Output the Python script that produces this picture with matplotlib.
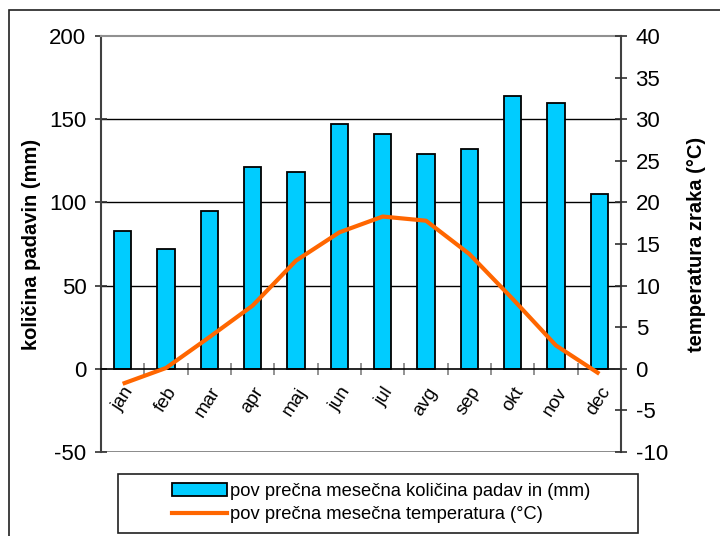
import matplotlib
matplotlib.use("Agg")
import matplotlib.pyplot as plt
from matplotlib.patches import Rectangle
from matplotlib.lines import Line2D

plt.rcParams['font.family'] = ['Liberation Sans', 'DejaVu Sans']
plt.rcParams['axes.unicode_minus'] = False

# monthly data
months = ['jan', 'feb', 'mar', 'apr', 'maj', 'jun', 'jul', 'avg', 'sep', 'okt', 'nov', 'dec']
precip = [83, 72, 95, 121, 118, 147, 141, 129, 132, 164, 160, 105]
temp = [-1.8, 0.1, 3.8, 7.6, 13.0, 16.4, 18.3, 17.8, 13.8, 8.4, 2.8, -0.6]

bar_label = 'pov prečna mesečna količina padav in (mm)'
line_label = 'pov prečna mesečna temperatura (°C)'

fig = plt.figure(figsize=(7.2, 5.36), dpi=100)
ax = fig.add_axes([101/720, 1 - 452/536, 520/720, 416/536])
ax2 = ax.twinx()

x = list(range(len(months)))

ax.bar(x, precip, width=0.4, color='#00CCFF', edgecolor='black', linewidth=1.3, zorder=3)
ax2.plot(x, temp, color='#FF6600', linewidth=3, zorder=4, solid_capstyle='butt')

# left axis
ax.set_xlim(-0.5, 11.5)
ax.set_ylim(-50, 200)
ax.set_yticks([-50, 0, 50, 100, 150, 200])
for yv in [50, 100, 150]:
    ax.axhline(yv, color='black', linewidth=1, zorder=1)
ax.axhline(-50, color='#808080', linewidth=2, zorder=1)

ax.spines['bottom'].set_position(('data', 0))
ax.spines['bottom'].set_color('black')
ax.spines['bottom'].set_linewidth(1.2)
ax.spines['bottom'].set_zorder(5)
ax.spines['top'].set_color('#909090')
ax.spines['top'].set_linewidth(1.5)
for s in ['left', 'right']:
    ax.spines[s].set_color('#404040')
    ax.spines[s].set_linewidth(1.5)

ax.set_xticks(x)
ax.set_xticklabels(months, rotation=57, ha='right', va='top', rotation_mode='anchor', fontsize=13.5)
ax.tick_params(axis='x', which='major', length=0, pad=11)
ax.set_xticks([i + 0.5 for i in x[:-1]], minor=True)
ax.tick_params(axis='x', which='minor', direction='inout', length=9, width=1.2, color='#808080')

ax.tick_params(axis='y', direction='inout', length=9, width=1.2, color='#303030', labelsize=16, pad=6)
ax.set_ylabel('količina padavin (mm)', fontsize=14.5, fontweight='bold', labelpad=6)

# right axis
ax2.set_ylim(-10, 40)
ax2.set_yticks(range(-10, 41, 5))
ax2.tick_params(axis='y', direction='inout', length=9, width=1.2, color='#303030', labelsize=16, pad=6)
ax2.set_ylabel('temperatura zraka (°C)', fontsize=14.5, fontweight='bold', labelpad=14)
for s in ax2.spines.values():
    s.set_visible(False)

# outer frame
fig.patches.append(Rectangle((9/720, -0.1), 1.0, 1.1 - 10/536, transform=fig.transFigure,
                             fill=False, edgecolor='#202020', linewidth=1.2))

# legend box
fig.patches.append(Rectangle((118/720, 1 - 533/536), 520/720, 59/536, transform=fig.transFigure,
                             fill=False, edgecolor='#202020', linewidth=1.2))
handles = [Rectangle((0, 0), 1, 1, facecolor='#00CCFF', edgecolor='black', linewidth=1.3),
           Line2D([0], [0], color='#FF6600', linewidth=3)]
fig.legend(handles, [bar_label, line_label], loc='center',
           bbox_to_anchor=(381/720, 1 - 503/536), frameon=False, fontsize=13.2,
           handlelength=3.0, handletextpad=0.15, labelspacing=0.35)

fig.savefig('out.png', dpi=100)
